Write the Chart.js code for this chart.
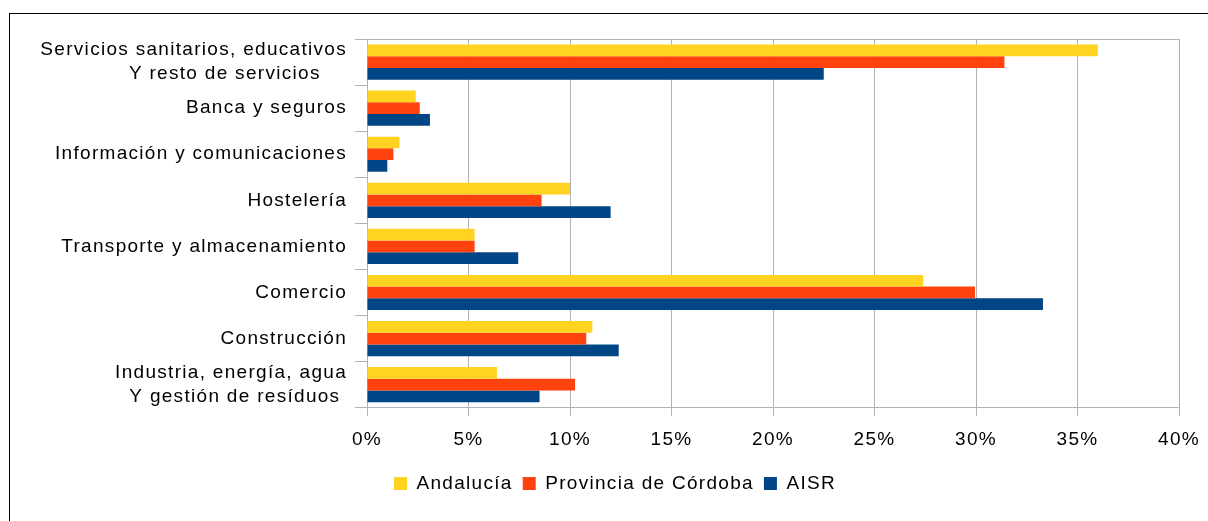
<!DOCTYPE html>
<html>
<head>
<meta charset="utf-8">
<script src="https://cdn.jsdelivr.net/npm/chart.js@4.4.1/dist/chart.umd.min.js"></script>
<style>
    html, body { margin: 0; padding: 0; background: #fff; overflow: hidden; }
    #wrap { position: relative; width: 1208px; height: 521px; overflow: hidden; }
    #frame { position: absolute; left: 9px; top: 13px; width: 1400px; height: 700px; border: 1px solid #000; box-sizing: border-box; }
    #chart { position: absolute; left: 0; top: 0; }
</style>
</head>
<body>
<div id="wrap">
    <div id="frame"></div>
    <canvas id="chart" width="1208" height="521"></canvas>
</div>
<script>
// Sectors, top to bottom as in the picture
const categories = [
    ['Servicios sanitarios, educativos', 'Y resto de servicios    '],
    'Banca y seguros',
    'Información y comunicaciones',
    'Hostelería',
    'Transporte y almacenamiento',
    'Comercio',
    'Construcción',
    ['Industria, energía, agua', 'Y gestión de resíduos ']
];

// Share of employment (%)
const andalucia = [36.0, 2.4, 1.6, 10.0, 5.3, 27.4, 11.1, 6.4];
const cordoba   = [31.4, 2.6, 1.3, 8.6, 5.3, 29.95, 10.8, 10.25];
const aisr      = [22.5, 3.1, 1.0, 12.0, 7.45, 33.3, 12.4, 8.5];

const seriesNames = ['Andalucía', 'Provincia de Córdoba', 'AISR'];
const seriesColors = ['#ffd320', '#ff420e', '#004586'];

// x axis ticks
const xMin = 0, xMax = 40, xStep = 5;

const FONT = "'Liberation Sans', Arial, sans-serif";
const LETTER_SPACING = '1.3px';
const GRID = '#b3b3b3';

// LibreOffice-ish wide text and a legend that sits left of centre
const layoutTweaks = {
    id: 'layoutTweaks',
    beforeLayout(chart) { chart.ctx.letterSpacing = LETTER_SPACING; },
    beforeDraw(chart) { chart.ctx.letterSpacing = LETTER_SPACING; },
    afterLayout(chart) {
        const lg = chart.legend;
        lg.left = 384;
        lg.right = chart.chartArea.right;
        const h = lg.height;
        lg.top = 464;
        lg.bottom = 464 + h;
    }
};

const datasets = [andalucia, cordoba, aisr].map((values, i) => ({
    label: seriesNames[i],
    data: values,
    backgroundColor: seriesColors[i],
    borderWidth: 0,
    categoryPercentage: 0.763,
    barPercentage: 1.0
}));

new Chart(document.getElementById('chart').getContext('2d'), {
    type: 'bar',
    data: { labels: categories, datasets },
    plugins: [layoutTweaks],
    options: {
        indexAxis: 'y',
        responsive: false,
        animation: false,
        devicePixelRatio: 1,
        layout: { padding: { left: 9, top: 39, right: 29, bottom: 18 } },
        plugins: {
            legend: {
                position: 'bottom',
                align: 'start',
                fullSize: false,
                labels: {
                    color: '#000',
                    font: { family: FONT, size: 19 },
                    boxWidth: 13,
                    boxHeight: 13,
                    padding: 10
                }
            },
            tooltip: { enabled: false }
        },
        scales: {
            x: {
                min: xMin,
                max: xMax,
                border: { color: GRID },
                grid: { color: GRID, tickColor: GRID, tickLength: 8 },
                ticks: {
                    stepSize: xStep,
                    padding: 8,
                    color: '#000',
                    font: { family: FONT, size: 19, lineHeight: 1.7 },
                    callback: (v) => v + '%'
                }
            },
            y: {
                afterFit: (scale) => { scale.width = 358; },
                border: { color: GRID },
                grid: {
                    offset: true,
                    color: (ctx) => ctx.index === 0 ? GRID : 'rgba(0,0,0,0)',
                    tickColor: GRID,
                    tickLength: 12
                },
                ticks: {
                    autoSkip: false,
                    padding: 8,
                    color: '#000',
                    font: { family: FONT, size: 19, lineHeight: 1.28 }
                }
            }
        }
    }
});
</script>
</body>
</html>
